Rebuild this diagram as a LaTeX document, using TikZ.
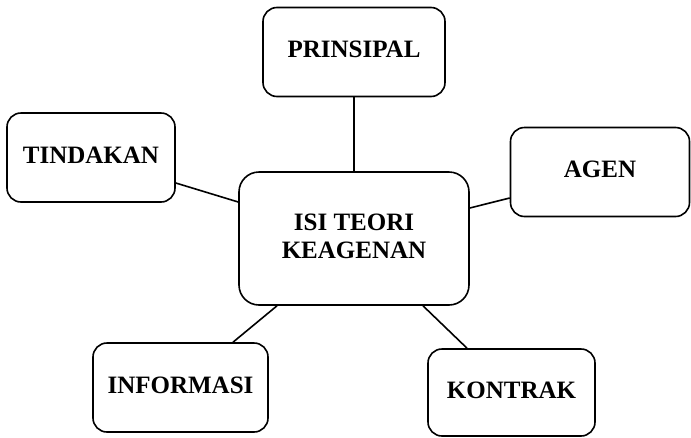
\documentclass[tikz,border=0pt]{standalone}
\usepackage{fontspec}
\setmainfont{Liberation Serif}
\begin{document}
\begin{tikzpicture}[x=1pt,y=-1pt,
  box/.style={draw=black,line width=1.6pt,rounded corners=14pt,fill=white,align=center,
    font=\fontsize{25}{28}\selectfont\bfseries,inner sep=0pt,text depth=5pt},
  link/.style={line width=1.6pt}]
\useasboundingbox (0,0) rectangle (691,437);
\node[box,minimum width=182pt,minimum height=89pt] (P) at (354,52) {PRINSIPAL};
\node[box,minimum width=168pt,minimum height=89pt] (T) at (91,157.5) {TINDAKAN};
\node[box,minimum width=179pt,minimum height=89pt] (A) at (600,172) {AGEN};
\node[box,minimum width=230pt,minimum height=133pt,rounded corners=20pt] (C) at (354,238.5) {ISI TEORI\\KEAGENAN};
\node[box,minimum width=175pt,minimum height=89pt] (I) at (180.5,387.5) {INFORMASI};
\node[box,minimum width=167pt,minimum height=87pt] (K) at (511.5,392.5) {KONTRAK};
\draw[link] (P.south) -- (C.north);
\draw[link] ([yshift=-25.5pt]T.east) -- ([yshift=36.5pt]C.west);
\draw[link] ([yshift=30.5pt]C.east) -- ([yshift=-26pt]A.west);
\draw[link] ([xshift=-77pt]C.south) -- ([xshift=52.5pt]I.north);
\draw[link] ([xshift=69pt]C.south) -- ([xshift=-44.5pt]K.north);
\end{tikzpicture}
\end{document}
